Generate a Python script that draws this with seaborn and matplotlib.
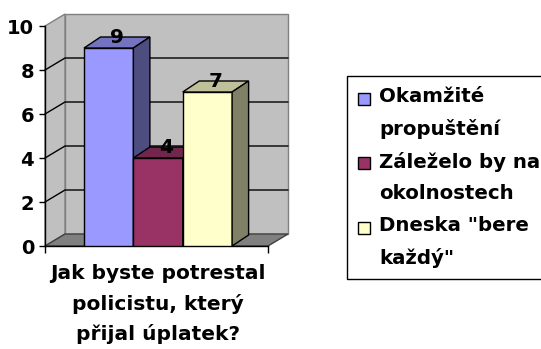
import matplotlib
matplotlib.use("Agg")
import matplotlib.pyplot as plt
import numpy as np
import pandas as pd
import seaborn as sns
from matplotlib.patches import Polygon, Rectangle, Patch
from matplotlib.legend_handler import HandlerPatch
from matplotlib.colors import to_rgb

# ---- data -------------------------------------------------------------
question = "Jak byste potrestal\npolicistu, který\npřijal úplatek?"
answers = ["Okamžité\npropuštění", "Záleželo by na\nokolnostech", "Dneska \"bere\nkaždý\""]
counts = [9, 4, 7]
face_colors = ["#9999FF", "#993366", "#FFFFCC"]
y_ticks = [0, 2, 4, 6, 8, 10]

df = pd.DataFrame({"question": [question] * len(answers),
                   "answer": answers,
                   "count": counts})

# ---- style ------------------------------------------------------------
sns.set_theme(style="white")
plt.rcParams["font.family"] = ["DejaVu Sans"]
plt.rcParams["font.weight"] = "bold"
for key in ["text.color", "axes.labelcolor", "xtick.color", "ytick.color"]:
    plt.rcParams[key] = "black"

W, H = 541, 349
DPI = 100
fig = plt.figure(figsize=(W / DPI, H / DPI), dpi=DPI)
fig.patch.set_facecolor("white")
# front plane of the 3-D box (pixel geometry of the plot area)
ax = fig.add_axes([45 / W, 1 - 246 / H, 223 / W, 220 / H])
ax.patch.set_visible(False)

sns.barplot(data=df, x="question", y="count", hue="answer",
            palette=face_colors, saturation=1, width=0.664,
            edgecolor="black", linewidth=1, legend=False, ax=ax)

ax.set_xlim(-0.507, 0.493)
ax.set_ylim(y_ticks[0], y_ticks[-1])
xmin, xmax = ax.get_xlim()
ymin, ymax = ax.get_ylim()


def px_to_data(dx_px, dy_px):
    inv = ax.transData.inverted()
    x0, y0 = inv.transform((0, 0))
    x1, y1 = inv.transform((dx_px, dy_px))
    return x1 - x0, y1 - y0


def shade(color, k):
    r, g, b = to_rgb(color)
    return (r * k, g * k, b * k)


# ---- walls and floor --------------------------------------------------
wdx, wdy = px_to_data(20, 12)
wall_kw = dict(clip_on=False, linewidth=1)
ax.add_patch(Polygon([(xmin + wdx, ymin + wdy), (xmax + wdx, ymin + wdy),
                      (xmax + wdx, ymax + wdy), (xmin + wdx, ymax + wdy)],
                     facecolor="#C0C0C0", edgecolor="#808080", zorder=0.3, **wall_kw))
ax.add_patch(Polygon([(xmin, ymin), (xmin + wdx, ymin + wdy),
                      (xmin + wdx, ymax + wdy), (xmin, ymax)],
                     facecolor="#C0C0C0", edgecolor="#808080", zorder=0.4, **wall_kw))
ax.add_patch(Polygon([(xmin, ymin), (xmax, ymin),
                      (xmax + wdx, ymin + wdy), (xmin + wdx, ymin + wdy)],
                     facecolor="#808080", edgecolor="#404040", zorder=0.5, **wall_kw))
for t in y_ticks[1:-1]:
    ax.plot([xmin, xmin + wdx, xmax + wdx], [t, t + wdy, t + wdy],
            color="black", linewidth=1, clip_on=False, zorder=0.6)

# ---- 3-D bars ---------------------------------------------------------
bdx, bdy = px_to_data(16.5, 11)
_, lbl_dy = px_to_data(0, 5)
for i, p in enumerate(ax.patches[:]):
    if not isinstance(p, Rectangle) or p.get_height() == 0:
        continue
    x0, w, h = p.get_x(), p.get_width(), p.get_height()
    fc = p.get_facecolor()
    p.set_zorder(10 + 3 * i)
    ax.add_patch(Polygon([(x0, h), (x0 + bdx, h + bdy), (x0 + w + bdx, h + bdy), (x0 + w, h)],
                         facecolor=shade(fc, 0.75), edgecolor="black", linewidth=1,
                         zorder=11 + 3 * i, clip_on=False))
    ax.add_patch(Polygon([(x0 + w, 0), (x0 + w, h), (x0 + w + bdx, h + bdy), (x0 + w + bdx, bdy)],
                         facecolor=shade(fc, 0.5), edgecolor="black", linewidth=1,
                         zorder=12 + 3 * i, clip_on=False))
    ax.text(x0 + w / 2 + bdx / 2, h + lbl_dy, f"{h:g}", ha="center", va="baseline",
            fontsize=14.5, fontweight="bold", color="black", zorder=40, clip_on=False)

# ---- axes -------------------------------------------------------------
for s in ["top", "right"]:
    ax.spines[s].set_visible(False)
for s in ["left", "bottom"]:
    ax.spines[s].set_color("black")
    ax.spines[s].set_linewidth(1)
    ax.spines[s].set_zorder(5)

ax.set_yticks(y_ticks)
ax.tick_params(axis="y", left=True, length=6 * 0.72, width=1, color="black",
               pad=5 * 0.72, labelsize=14, labelcolor="black", direction="out")
ax.set_xticks([0])
ax.set_xticklabels([question])
ax.set_xticks([xmin, xmax], minor=True)
ax.tick_params(axis="x", which="major", bottom=False, length=0, pad=18 * 0.72,
               labelsize=14.5, labelcolor="black")
ax.tick_params(axis="x", which="minor", bottom=True, length=7 * 0.72, width=1,
               color="black", direction="out")
for lbl in ax.get_xticklabels():
    lbl.set_fontweight("bold")
    lbl.set_linespacing(1.67)
for lbl in ax.get_yticklabels():
    lbl.set_fontweight("bold")
ax.set_xlabel("")
ax.set_ylabel("")

# ---- legend -----------------------------------------------------------
def top_square(legend, orig_handle, xdescent, ydescent, width, height, fontsize):
    size = 12 * 0.72
    cy = -ydescent + height / 2 + 0.74 * fontsize
    return Rectangle((-xdescent, cy - size / 2), size, size)


handles = [Patch(facecolor=c, edgecolor="black", linewidth=1) for c in face_colors]
leg = fig.legend(handles, answers, loc="upper left",
                 bbox_to_anchor=(347 / W, 1 - 76 / H), borderaxespad=0,
                 frameon=True, fancybox=False, shadow=False, framealpha=1,
                 edgecolor="black", facecolor="white",
                 handlelength=0.6, handletextpad=0.45, borderpad=0.57,
                 labelspacing=0.68,
                 prop={"size": 14.2, "weight": "bold"},
                 handler_map={Patch: HandlerPatch(patch_func=top_square)})
leg.get_frame().set_linewidth(1)
for t in leg.get_texts():
    t.set_linespacing(1.78)
    t.set_color("black")

fig.savefig("out.png", dpi=DPI)
